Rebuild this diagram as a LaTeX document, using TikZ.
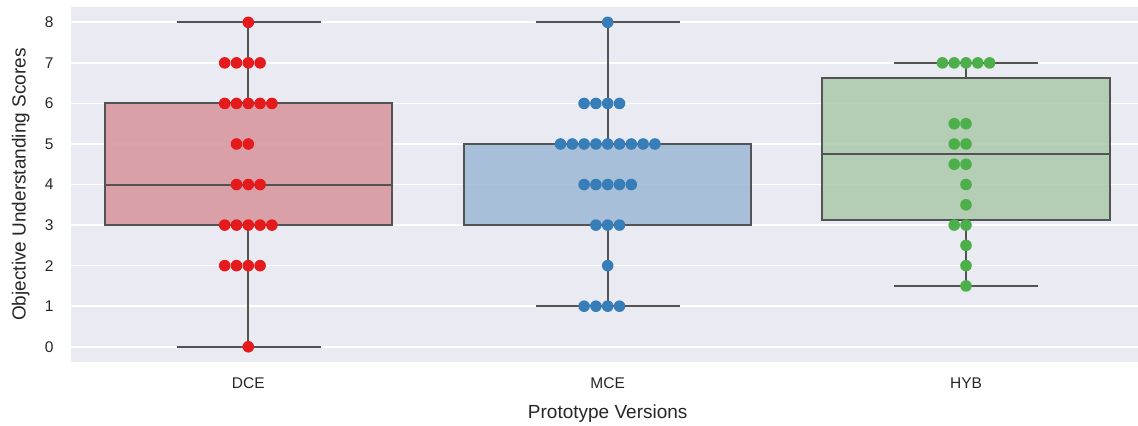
\documentclass[tikz,border=0pt]{standalone}
\usepackage{fontspec}
\setmainfont{Liberation Sans}
\usetikzlibrary{positioning}
\definecolor{bggray}{HTML}{EAEAF2}
\definecolor{edgegray}{HTML}{535353}
\definecolor{txtgray}{HTML}{262626}
\definecolor{dcered}{HTML}{E41A1C}
\definecolor{mceblue}{HTML}{377EB8}
\definecolor{hybgreen}{HTML}{4DAF4A}
\definecolor{dcebox}{HTML}{D8969D}
\definecolor{mcebox}{HTML}{9FBAD6}
\definecolor{hybbox}{HTML}{ADCBAE}

\begin{document}
\begin{tikzpicture}[x=1pt,y=40.55pt,
    boxline/.style={edgegray,line width=2pt},
    boxfill/.style={boxline,fill opacity=0.88,draw opacity=1},
    ticklab/.style={txtgray,font=\fontsize{15.5}{18}\selectfont},
    axlab/.style={txtgray,font=\fontsize{19}{22}\selectfont}]
  \useasboundingbox (0,-1.932) rectangle (1138,8.551);
  % background and grid
  \fill[bggray](70.7,-0.377) rectangle (1138,8.38);
  \foreach \k in {0,...,8}{
    \draw[white,line width=1.7pt](70.7,\k)--(1138,\k);
    \node[ticklab,anchor=east] (yt\k) at (57,\k) {\k};
  }
  % DCE
  \draw[boxline](248.3,0)--(248.3,3) (248.3,6)--(248.3,8);
  \draw[boxline](176.7,0)--(320.7,0) (176.7,8)--(320.7,8);
  \filldraw[boxfill,fill=dcebox](104.7,3) rectangle (391.9,6);
  \draw[boxline](104.7,4)--(391.9,4);
  % MCE
  \draw[boxline](607.7,1)--(607.7,3) (607.7,5)--(607.7,8);
  \draw[boxline](535.7,1)--(679.7,1) (535.7,8)--(679.7,8);
  \filldraw[boxfill,fill=mcebox](464.1,3) rectangle (751.3,5);
  \draw[boxline](464.1,5)--(751.3,5);
  % HYB
  \draw[boxline](966,1.5)--(966,3.125) (966,6.625)--(966,7);
  \draw[boxline](894,1.5)--(1038,1.5) (894,7)--(1038,7);
  \filldraw[boxfill,fill=hybbox](822.4,3.125) rectangle (1109.6,6.625);
  \draw[boxline](822.4,4.75)--(1109.6,4.75);
  % swarm points
  \begin{scope}[shift={(248.3,0)}]
    \fill[dcered](0,8) circle (5.8pt);
    \fill[dcered](-23.6,7) circle (5.8pt);\fill[dcered](-11.8,7) circle (5.8pt);\fill[dcered](0,7) circle (5.8pt);\fill[dcered](11.8,7) circle (5.8pt);
    \fill[dcered](-23.6,6) circle (5.8pt);\fill[dcered](-11.8,6) circle (5.8pt);\fill[dcered](0,6) circle (5.8pt);\fill[dcered](11.8,6) circle (5.8pt);\fill[dcered](23.6,6) circle (5.8pt);
    \fill[dcered](-11.8,5) circle (5.8pt);\fill[dcered](0,5) circle (5.8pt);
    \fill[dcered](-11.8,4) circle (5.8pt);\fill[dcered](0,4) circle (5.8pt);\fill[dcered](11.8,4) circle (5.8pt);
    \fill[dcered](-23.6,3) circle (5.8pt);\fill[dcered](-11.8,3) circle (5.8pt);\fill[dcered](0,3) circle (5.8pt);\fill[dcered](11.8,3) circle (5.8pt);\fill[dcered](23.6,3) circle (5.8pt);
    \fill[dcered](-23.6,2) circle (5.8pt);\fill[dcered](-11.8,2) circle (5.8pt);\fill[dcered](0,2) circle (5.8pt);\fill[dcered](11.8,2) circle (5.8pt);
    \fill[dcered](0,0) circle (5.8pt);
  \end{scope}
  \begin{scope}[shift={(607.7,0)}]
    \fill[mceblue](0,8) circle (5.8pt);
    \fill[mceblue](-23.6,6) circle (5.8pt);\fill[mceblue](-11.8,6) circle (5.8pt);\fill[mceblue](0,6) circle (5.8pt);\fill[mceblue](11.8,6) circle (5.8pt);
    \fill[mceblue](-47.2,5) circle (5.8pt);\fill[mceblue](-35.4,5) circle (5.8pt);\fill[mceblue](-23.6,5) circle (5.8pt);\fill[mceblue](-11.8,5) circle (5.8pt);\fill[mceblue](0,5) circle (5.8pt);\fill[mceblue](11.8,5) circle (5.8pt);\fill[mceblue](23.6,5) circle (5.8pt);\fill[mceblue](35.4,5) circle (5.8pt);\fill[mceblue](47.2,5) circle (5.8pt);
    \fill[mceblue](-23.6,4) circle (5.8pt);\fill[mceblue](-11.8,4) circle (5.8pt);\fill[mceblue](0,4) circle (5.8pt);\fill[mceblue](11.8,4) circle (5.8pt);\fill[mceblue](23.6,4) circle (5.8pt);
    \fill[mceblue](-11.8,3) circle (5.8pt);\fill[mceblue](0,3) circle (5.8pt);\fill[mceblue](11.8,3) circle (5.8pt);
    \fill[mceblue](0,2) circle (5.8pt);
    \fill[mceblue](-23.6,1) circle (5.8pt);\fill[mceblue](-11.8,1) circle (5.8pt);\fill[mceblue](0,1) circle (5.8pt);\fill[mceblue](11.8,1) circle (5.8pt);
  \end{scope}
  \begin{scope}[shift={(966,0)}]
    \fill[hybgreen](-23.6,7) circle (5.8pt);\fill[hybgreen](-11.8,7) circle (5.8pt);\fill[hybgreen](0,7) circle (5.8pt);\fill[hybgreen](11.8,7) circle (5.8pt);\fill[hybgreen](23.6,7) circle (5.8pt);
    \fill[hybgreen](-11.8,5.5) circle (5.8pt);\fill[hybgreen](0,5.5) circle (5.8pt);
    \fill[hybgreen](-11.8,5) circle (5.8pt);\fill[hybgreen](0,5) circle (5.8pt);
    \fill[hybgreen](-11.8,4.5) circle (5.8pt);\fill[hybgreen](0,4.5) circle (5.8pt);
    \fill[hybgreen](0,4) circle (5.8pt);\fill[hybgreen](0,3.5) circle (5.8pt);
    \fill[hybgreen](-11.8,3) circle (5.8pt);\fill[hybgreen](0,3) circle (5.8pt);
    \fill[hybgreen](0,2.5) circle (5.8pt);\fill[hybgreen](0,2) circle (5.8pt);\fill[hybgreen](0,1.5) circle (5.8pt);
  \end{scope}
  % axis labels
  \node[ticklab] (dcelab) at (248.3,-0.888) {DCE};
  \node[ticklab] (mcelab) at (607.7,-0.888) {MCE};
  \node[ticklab] (hyblab) at (966,-0.888) {HYB};
  \node[axlab] (xtitle) at (607.7,-1.66) {Prototype Versions};
  \node[axlab,rotate=90] (ytitle) at (20.7,4.0) {Objective Understanding Scores};
\end{tikzpicture}
\end{document}
